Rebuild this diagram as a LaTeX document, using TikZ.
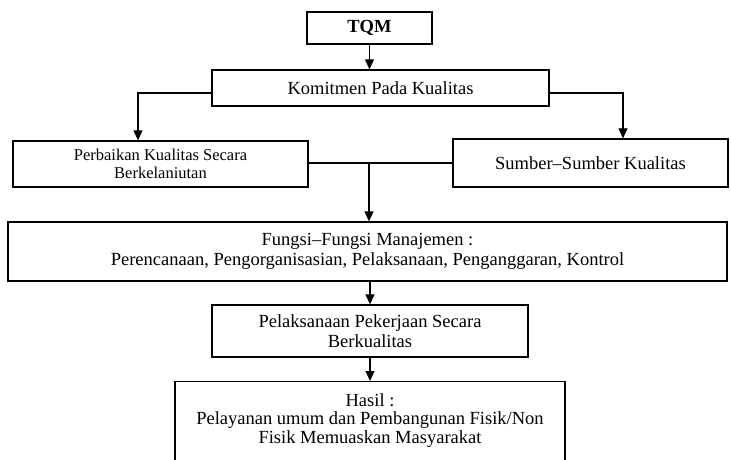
\documentclass[tikz,border=0pt]{standalone}
\usepackage{fontspec}
\setmainfont{Liberation Serif}
\usetikzlibrary{arrows.meta}
\tikzset{
  box/.style={draw, line width=1.3pt, rectangle, align=center, inner sep=2pt,
    font=\fontsize{18.5}{19.5}\selectfont},
  arr/.style={draw, line width=1.1pt, -{Triangle[width=9pt,length=10pt]}},
  conn/.style={draw, line width=1.1pt}
}
\begin{document}
\begin{tikzpicture}[x=1pt,y=-1pt]
\useasboundingbox (0,0) rectangle (731,460);
\clip (0,0) rectangle (731,460);
\node[box, minimum width=125pt, minimum height=32pt, font=\fontsize{18.5}{18.5}\selectfont\bfseries] (tqm) at (369.5,28) {TQM};
\node[box, minimum width=337pt, minimum height=36pt] (kom) at (380.5,88) {Komitmen Pada Kualitas};
\node[box, minimum width=295pt, minimum height=46pt, font=\fontsize{16.5}{18.5}\selectfont] (perb) at (160.5,164) {Perbaikan Kualitas Secara\\Berkelaniutan};
\node[box, minimum width=275pt, minimum height=48pt] (sumb) at (590.5,163) {Sumber--Sumber Kualitas};
\node[box, minimum width=719pt, minimum height=59pt] (fung) at (367.5,251.5) {Fungsi--Fungsi Manajemen :\\Perencanaan, Pengorganisasian, Pelaksanaan, Penganggaran, Kontrol};
\node[box, minimum width=316pt, minimum height=52pt] (pel) at (370,331) {Pelaksanaan Pekerjaan Secara\\Berkualitas};
\node[box, minimum width=390pt, anchor=north, inner ysep=12pt, font=\fontsize{18.5}{18.5}\selectfont] (hasil) at (370,381) {Hasil :\\Pelayanan umum dan Pembangunan Fisik/Non\\Fisik Memuaskan Masyarakat\rule[-40pt]{0pt}{0pt}};
\coordinate (j) at (369,163);
\draw[arr] (tqm.south) -- (tqm.south |- kom.north);
\draw[arr] ([yshift=-5pt]kom.west) -| ([xshift=-22.5pt]perb.north);
\draw[arr] ([yshift=-5pt]kom.east) -| ([xshift=32.5pt]sumb.north);
\draw[conn] (perb.east |- j) -- (sumb.west |- j);
\draw[arr] (j) -- (j |- fung.north);
\draw[arr] (fung.south -| pel.north) -- (pel.north);
\draw[arr] (pel.south) -- (hasil.north);
\end{tikzpicture}
\end{document}
